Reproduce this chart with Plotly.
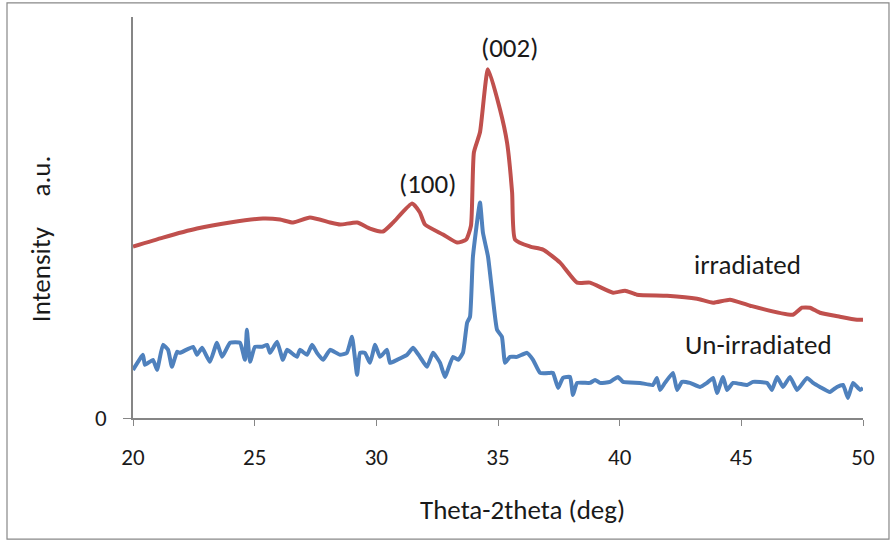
import plotly.graph_objects as go

# Irradiated (red) XRD pattern: 2theta (deg) and intensity (a.u.)
red_x = [20.00, 21.23, 22.63, 23.99, 25.34, 26.04, 26.58, 27.27, 28.10, 28.51, 29.21, 29.74,
         30.27, 30.69, 31.47, 31.79, 32.00, 32.74, 33.32, 33.69, 33.89, 34.01, 34.26, 34.59,
         35.08, 35.37, 35.58, 35.70, 36.32, 36.85, 37.55, 38.25, 38.78, 39.73, 40.22, 40.71,
         41.95, 43.18, 43.84, 44.53, 45.36, 47.12, 47.49, 47.82, 48.23, 49.05, 49.75, 50.00]
red_y = [171, 180, 189, 195, 199, 198, 195, 200, 195, 193, 195, 189,
         186, 195, 214, 205, 193, 183, 175, 178, 192, 265, 285, 348,
         308, 275, 225, 178, 171, 168, 155, 135, 135, 125, 127, 123,
         122, 119, 115, 118, 112, 103, 110, 110, 105, 101, 98, 98]

# Un-irradiated (blue) XRD pattern
blue_x = [20.00, 20.41, 20.49, 20.82, 20.99, 21.23, 21.44, 21.60, 21.81, 21.93, 22.47, 22.63,
          22.84, 23.16, 23.45, 23.66, 23.99, 24.40, 24.60, 24.68, 24.81, 25.01, 25.30, 25.51,
          25.63, 25.92, 26.16, 26.33, 26.74, 26.86, 27.15, 27.36, 27.56, 27.81, 28.10, 28.51,
          28.79, 29.00, 29.21, 29.33, 29.53, 29.74, 29.95, 30.15, 30.44, 30.56, 30.85, 31.26,
          31.51, 31.79, 32.08, 32.33, 32.62, 32.82, 33.15, 33.36, 33.56, 33.73, 33.85, 33.97,
          34.26, 34.38, 34.59, 34.75, 34.96, 35.16, 35.29, 35.49, 35.78, 36.19, 36.44, 36.73,
          37.14, 37.26, 37.47, 37.67, 37.96, 38.08, 38.25, 38.78, 38.99, 39.19, 39.60, 39.93,
          40.14, 40.84, 41.37, 41.53, 41.66, 41.86, 42.19, 42.36, 42.56, 42.89, 43.30, 43.59,
          43.84, 44.00, 44.25, 44.41, 44.66, 45.24, 45.48, 46.06, 46.26, 46.47, 46.71, 47.00,
          47.29, 47.70, 47.95, 48.23, 48.64, 48.93, 49.18, 49.38, 49.59, 49.88, 50.00]
blue_y = [48, 63, 53, 58, 48, 73, 68, 51, 66, 65, 71, 63,
          70, 56, 75, 61, 75, 75, 58, 88, 56, 71, 71, 73,
          65, 76, 58, 68, 61, 68, 63, 73, 65, 58, 68, 63,
          65, 81, 43, 65, 65, 55, 73, 61, 68, 55, 58, 63,
          70, 61, 51, 65, 55, 41, 61, 58, 65, 95, 101, 161,
          215, 185, 161, 128, 88, 81, 55, 61, 61, 65, 58, 45,
          45, 45, 30, 40, 41, 23, 35, 35, 38, 35, 36, 41,
          36, 35, 33, 40, 28, 35, 45, 28, 36, 35, 31, 35,
          40, 25, 41, 28, 35, 33, 36, 35, 28, 41, 31, 41,
          28, 40, 35, 31, 26, 31, 33, 20, 35, 28, 30]

x_ticks = [20, 25, 30, 35, 40, 45, 50]

FONT = "Carlito, Calibri, Lato, 'Liberation Sans', sans-serif"
TXT = "#1a1a1a"

fig = go.Figure()
fig.add_trace(go.Scatter(x=red_x, y=red_y, mode="lines", name="irradiated",
                         line=dict(color="#C0504D", width=4, shape="spline", smoothing=0.5)))
fig.add_trace(go.Scatter(x=blue_x, y=blue_y, mode="lines", name="Un-irradiated",
                         line=dict(color="#4F81BD", width=4, shape="spline", smoothing=0.4)))

ann_font = dict(family=FONT, size=27, color=TXT)
for xv, yv, txt in [(35.49, 370, "(002)"), (32.12, 234, "(100)"),
                    (45.27, 153, "irradiated"), (45.69, 73, "Un-irradiated")]:
    fig.add_annotation(x=xv, y=yv, text=txt, showarrow=False, font=ann_font,
                       xanchor="center", yanchor="middle")

fig.add_annotation(xref="paper", yref="paper", x=0.534, y=-0.229,
                   text="Theta-2theta (deg)", showarrow=False,
                   xanchor="center", yanchor="middle",
                   font=dict(family=FONT, size=27, color=TXT))
fig.add_annotation(xref="paper", yref="paper", x=-0.1274, y=0.446,
                   text="Intensity\u00a0\u00a0\u00a0\u00a0\u00a0a.u.", showarrow=False,
                   xanchor="center", yanchor="middle",
                   textangle=-90, font=dict(family=FONT, size=27, color=TXT))

# outer chart border
fig.add_shape(type="rect", xref="paper", yref="paper",
              x0=-0.1726, x1=1.0356, y0=-0.302, y1=1.035,
              line=dict(color="#888888", width=1.2))

fig.update_layout(
    width=894, height=543,
    margin=dict(l=133, r=31, t=17, b=125),
    paper_bgcolor="white", plot_bgcolor="white",
    showlegend=False,
    font=dict(family=FONT, size=23, color=TXT),
)
fig.update_xaxes(range=[20, 50], tickvals=x_ticks, ticks="outside", ticklen=6,
                 tickcolor="#868686", showline=True, linecolor="#868686", linewidth=1.5,
                 showgrid=False, zeroline=False, tickfont=dict(size=23),
                 ticklabelstandoff=12)
fig.update_yaxes(range=[0, 400], tickvals=[0], ticks="outside", ticklen=8,
                 tickcolor="#868686", showline=True, linecolor="#868686", linewidth=1.5,
                 showgrid=False, zeroline=False, tickfont=dict(size=23),
                 ticklabelstandoff=12)

fig.write_html("out.html", config={"displayModeBar": False},
               post_script="document.body.style.margin='0';")
